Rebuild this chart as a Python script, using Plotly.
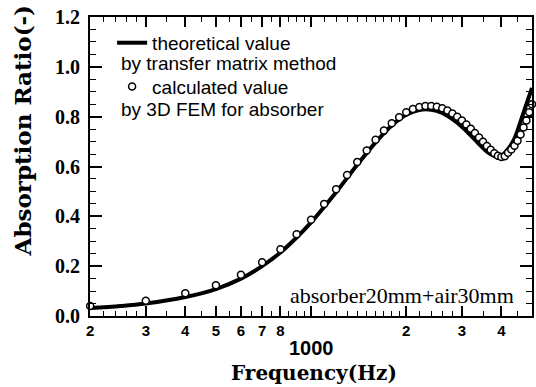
import numpy as np
import plotly.graph_objects as go

# ---- data ----
freq_theo = [200, 250, 300, 400, 500, 600, 700, 800, 900, 1000, 1200, 1400, 1600, 1800,
             2000, 2200, 2400, 2600, 2800, 3000, 3200, 3400, 3600, 3800, 3900, 4000,
             4200, 4400, 4600, 4800, 5000]
abs_theo = [0.032, 0.040, 0.050, 0.076, 0.108, 0.150, 0.200, 0.255, 0.315, 0.376, 0.497,
            0.607, 0.697, 0.765, 0.808, 0.827, 0.828, 0.815, 0.790, 0.760, 0.725, 0.690,
            0.660, 0.642, 0.636, 0.642, 0.670, 0.712, 0.780, 0.850, 0.915]

freq_calc = [200, 300, 400, 500, 600, 700, 800, 900, 1000, 1100, 1200, 1300, 1400, 1500,
             1600, 1700, 1800, 1900, 2000, 2100, 2200, 2300, 2400, 2500, 2600, 2700, 2800,
             2900, 3000, 3100, 3200, 3300, 3400, 3500, 3600, 3700, 3800, 3900, 4000, 4100,
             4200, 4300, 4400, 4500, 4600, 4700, 4800, 4900, 5000]
abs_calc = [0.040, 0.061, 0.091, 0.123, 0.166, 0.216, 0.268, 0.328, 0.386, 0.450, 0.509,
            0.566, 0.618, 0.664, 0.707, 0.744, 0.774, 0.798, 0.818, 0.831, 0.839, 0.843,
            0.843, 0.840, 0.834, 0.825, 0.813, 0.800, 0.785, 0.769, 0.752, 0.734, 0.716,
            0.699, 0.682, 0.667, 0.653, 0.643, 0.638, 0.641, 0.655, 0.668, 0.683, 0.703,
            0.728, 0.757, 0.785, 0.818, 0.850]

x_major = [200, 300, 400, 500, 600, 700, 800, 1000, 2000, 3000, 4000, 5000]
x_major_text = ["2", "3", "4", "5", "6", "7", "8", "", "2", "3", "4", "5"]
x_minor = [220, 240, 260, 280, 350, 450, 550, 650, 750, 850, 900, 950,
           1100, 1200, 1300, 1400, 1500, 1600, 1700, 1800, 1900,
           2200, 2400, 2600, 2800, 3500, 4500]
decade_label = "1000"

SERIF = "Liberation Serif"
WIDE_SERIF = "DejaVu Serif"
SANS = "Liberation Sans"

fig = go.Figure()
fig.add_trace(go.Scatter(
    x=freq_theo, y=abs_theo, mode="lines", line=dict(color="black", width=4, shape="spline"),
    name="theoretical value", legendgroup="a"))
fig.add_trace(go.Scatter(
    x=freq_calc, y=abs_calc, mode="markers", cliponaxis=False,
    marker=dict(symbol="circle", size=7, color="white", line=dict(color="black", width=1.5)),
    name="calculated value", legendgroup="b"))

fig.update_layout(
    width=536, height=387,
    margin=dict(l=90, r=2, t=17, b=71),
    paper_bgcolor="white", plot_bgcolor="white",
    showlegend=True,
    legend=dict(x=0.05, y=0.977, xanchor="left", yanchor="top", bgcolor="rgba(0,0,0,0)",
                font=dict(family=SANS, size=19, color="black"), tracegroupgap=16,
                itemwidth=30),
    xaxis=dict(type="log", range=[np.log10(199.8), np.log10(5000)],
               showline=True, linecolor="black", linewidth=2, mirror="allticks",
               ticks="inside", ticklen=10, tickwidth=1.5, tickcolor="black",
               tickmode="array", tickvals=x_major, ticktext=x_major_text,
               tickfont=dict(family=SANS, size=15, color="black", weight="bold"),
               showgrid=False, zeroline=False,
               minor=dict(tickmode="array", tickvals=x_minor, ticks="inside", ticklen=5,
                          tickwidth=1, tickcolor="black", showgrid=False)),
    yaxis=dict(range=[0, 1.2], dtick=0.2, tick0=0, tickformat=".1f",
               showline=True, linecolor="black", linewidth=2, mirror="allticks",
               ticks="inside", ticklen=12, tickwidth=1.5, tickcolor="black",
               tickfont=dict(family=SERIF, size=20, color="black", weight="bold"),
               ticklabelstandoff=4,
               showgrid=False, zeroline=False,
               minor=dict(dtick=0.05, ticks="inside", ticklen=6, tickwidth=1,
                          tickcolor="black", showgrid=False)),
)

annos = [
    dict(text="by transfer matrix method", xref="paper", yref="paper", x=0.066, y=0.846,
         xanchor="left", yanchor="middle", font=dict(family=SANS, size=19, color="black")),
    dict(text="by 3D FEM for absorber", xref="paper", yref="paper", x=0.066, y=0.692,
         xanchor="left", yanchor="middle", font=dict(family=SANS, size=19, color="black")),
    dict(text="absorber20mm+air30mm", xref="paper", yref="paper", x=0.447, y=0.070,
         xanchor="left", yanchor="middle", font=dict(family=SERIF, size=22, color="black")),
    dict(text=decade_label, xref="x", yref="paper", x=np.log10(1000), y=-0.108,
         xanchor="center", yanchor="middle",
         font=dict(family=SANS, size=20, color="black", weight="bold")),
    dict(text="Frequency(Hz)", xref="paper", yref="paper", x=0.506, y=-0.19,
         xanchor="center", yanchor="middle",
         font=dict(family=WIDE_SERIF, size=20, color="black", weight="bold")),
    dict(text="Absorption Ratio(-)", xref="paper", yref="paper", x=-0.152, y=0.62,
         xanchor="center", yanchor="middle", textangle=-90,
         font=dict(family=WIDE_SERIF, size=23, color="black", weight="bold")),
]
for a in annos:
    a["showarrow"] = False
    fig.add_annotation(**a)

fig.write_html("out.html", config={"displayModeBar": False},
               post_script="document.body.style.margin='0';")
